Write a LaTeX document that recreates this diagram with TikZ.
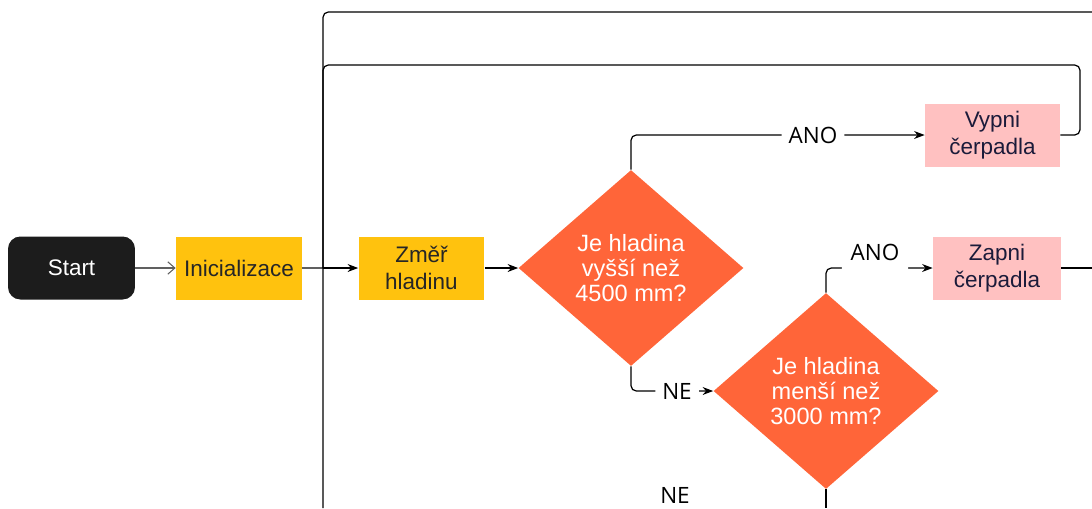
\documentclass[tikz,border=0pt]{standalone}
\usepackage{fontspec}
\setmainfont{Liberation Sans}
\newfontfamily\lblfont{Open Sans}
\usetikzlibrary{shapes.geometric,arrows.meta}

\definecolor{startcol}{HTML}{1C1C1C}
\definecolor{initcol}{HTML}{FFC20E}
\definecolor{qcol}{HTML}{FF6539}
\definecolor{pumpcol}{HTML}{FFC1C1}
\definecolor{navytext}{HTML}{1B1B3A}

\tikzset{
  boxfont/.style={font=\fontsize{12.8}{15.5}\selectfont, align=center},
  startbox/.style={boxfont, fill=startcol, text=white, rounded corners=7pt,
    minimum width=2.54cm, minimum height=1.26cm, inner sep=0pt},
  workbox/.style={boxfont, fill=initcol, text=black!85,
    minimum width=2.52cm, minimum height=1.26cm, inner sep=0pt},
  pumpbox/.style={boxfont, fill=pumpcol, text=navytext,
    minimum height=1.26cm, inner sep=0pt},
  question/.style={font=\fontsize{13.4}{14.3}\selectfont, align=center,
    diamond, fill=qcol, text=white, aspect=1.15,
    minimum width=4.5cm, minimum height=3.92cm, inner sep=0pt},
  lbl/.style={font=\lblfont\fontsize{12.8}{14}\selectfont, fill=white,
    inner xsep=4pt, inner ysep=1pt},
  flow/.style={line width=0.7pt, rounded corners=3pt,
    -{Stealth[length=6pt, width=4.5pt]}},
  wire/.style={line width=0.7pt, rounded corners=3pt}
}

\begin{document}
\begin{tikzpicture}[x=0.02cm, y=-0.02cm]
\useasboundingbox (0,0) rectangle (1092,508);

%% === UZLY ===
\node[startbox] (start) at (71.5,268) {Start};
\node[workbox]  (init)  at (239,268)  {Inicializace};
\node[workbox]  (zmer)  at (421.5,268) {Změř\\hladinu};

\node[question] (vyssi) at (631,268) {Je hladina\\vyšší než\\4500 mm?};
\node[question] (mensi) at (826,391) {Je hladina\\menší než\\3000 mm?};

\node[pumpbox, minimum width=2.7cm]  (vypni) at (992.5,135) {Vypni\\čerpadla};
\node[pumpbox, minimum width=2.56cm] (zapni) at (997,268)   {Zapni\\čerpadla};

%% pomocne body (okraje obrazku)
\coordinate (bus)  at (323,268);
\coordinate (topR) at (1092,12);
\coordinate (botL) at (323,508);

%% === SPOJE ===
\draw[gray!75!black, line width=0.6pt, -{Straight Barb[length=4pt, width=7pt]}]
    (start) -- (init);
\draw[gray!75!black, line width=0.6pt] (init.east) -- (bus);
\draw[flow] (bus) -- (zmer);
\draw[flow] (zmer) -- (vyssi);

%% hlavni smycka
\draw[wire] (topR) -| (botL);
\draw[wire] (vypni.east) -| (1080,65) -| (bus);

%% rozhodnuti 1
\draw[flow] (vyssi.north) |- node[lbl, pos=0.81] (anoA) {ANO} (vypni.west);
\draw[flow] (vyssi.south) |- node[lbl, pos=0.78] (neA) {NE} (mensi.west);

%% rozhodnuti 2
\draw[flow] (mensi.north) |- node[lbl, pos=0.73, text height=9pt,
    text depth=18pt, inner xsep=5pt, inner ysep=0pt] (anoB) {ANO} (zapni.west);
\draw[wire] (mensi.south) -- (mensi.south |- botL);
\draw[wire] (zapni.east) -- (zapni.east -| topR);

\node[lbl] (neB) at (675,495) {NE};

\end{tikzpicture}
\end{document}
